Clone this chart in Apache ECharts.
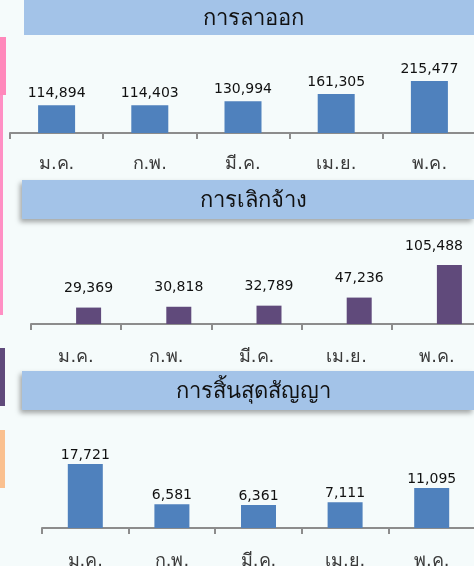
<!DOCTYPE html>
<html>
<head>
<meta charset="utf-8">
<script src="https://cdn.jsdelivr.net/npm/echarts@6/dist/echarts.min.js"></script>
<style>
  html, body { margin: 0; padding: 0; background: #f5fbfb; }
  #chart { width: 474px; height: 566px; }
</style>
</head>
<body>
<div id="chart"></div>
<script>
const months = ['ม.ค.', 'ก.พ.', 'มี.ค.', 'เม.ย.', 'พ.ค.'];
const resignValues = [114894, 114403, 130994, 161305, 215477];
const dismissValues = [29369, 30818, 32789, 47236, 105488];
const contractEndValues = [17721, 6581, 6361, 7111, 11095];
const panelTitles = ['การลาออก', 'การเลิกจ้าง', 'การสิ้นสุดสัญญา'];

const fontFamily = 'Tahoma, "DejaVu Sans", sans-serif';

function xAxisFor(gridIndex, margin) {
    return {
        type: 'category',
        gridIndex: gridIndex,
        data: months,
        axisLine: { show: true, lineStyle: { color: '#8c8c8c', width: 2 } },
        axisTick: { show: true, interval: 0, alignWithLabel: false, length: 6, lineStyle: { color: '#8c8c8c', width: 2 } },
        axisLabel: { color: '#3a3a3a', fontSize: 18, fontFamily: fontFamily, margin: margin }
    };
}

function yAxisFor(gridIndex, max) {
    return { type: 'value', gridIndex: gridIndex, min: 0, max: max, show: false, splitLine: { show: false } };
}

function valueLabel(distance) {
    return {
        show: true,
        position: 'top',
        distance: distance,
        color: '#111',
        fontSize: 14,
        fontFamily: fontFamily,
        formatter: p => p.value.toLocaleString('en-US')
    };
}

// keep value labels inside the plot, like the spreadsheet does
function keepInside(params) {
    const r = params.labelRect;
    if (r.x + r.width > 463) {
        return { x: 463, y: r.y + r.height / 2, align: 'right', verticalAlign: 'middle' };
    }
    return {};
}

function banner(y, h, left, title, shadow) {
    return [
        {
            type: 'rect',
            shape: { x: left, y: y, width: 474 - left, height: h },
            style: {
                fill: '#a3c3e8',
                shadowBlur: shadow ? 5 : 0,
                shadowOffsetX: shadow ? -2 : 0,
                shadowOffsetY: shadow ? 3 : 0,
                shadowColor: 'rgba(0,0,0,0.35)'
            }
        },
        {
            type: 'text',
            x: 253,
            y: y + h / 2 + 2,
            style: {
                text: title,
                fill: '#111',
                font: '22px ' + fontFamily,
                align: 'center',
                verticalAlign: 'middle'
            }
        }
    ];
}

const chart = echarts.init(document.getElementById('chart'));

chart.setOption({
    backgroundColor: '#f5fbfb',
    animation: false,
    grid: [
        { left: 10, top: 40, width: 466, height: 93, outerBoundsMode: 'none' },
        { left: 31, top: 225, width: 451, height: 99, outerBoundsMode: 'none' },
        { left: 42, top: 430, width: 433, height: 98, outerBoundsMode: 'none' }
    ],
    xAxis: [xAxisFor(0, 22), xAxisFor(1, 24), xAxisFor(2, 24)],
    yAxis: [yAxisFor(0, 385000), yAxisFor(1, 177000), yAxisFor(2, 27150)],
    series: [
        {
            type: 'bar', xAxisIndex: 0, yAxisIndex: 0,
            data: resignValues, barWidth: 37,
            itemStyle: { color: '#4f81bd' },
            label: valueLabel(5)
        },
        {
            type: 'bar', xAxisIndex: 1, yAxisIndex: 1,
            data: [], barWidth: 25, barGap: '0%'
        },
        {
            type: 'bar', xAxisIndex: 1, yAxisIndex: 1,
            data: dismissValues, barWidth: 25, barGap: '0%',
            itemStyle: { color: '#604a7b' },
            label: valueLabel(12),
            labelLayout: keepInside
        },
        {
            type: 'bar', xAxisIndex: 2, yAxisIndex: 2,
            data: contractEndValues, barWidth: 35,
            itemStyle: { color: '#4f81bd' },
            label: valueLabel(2)
        }
    ],
    graphic: [
        { type: 'rect', shape: { x: 0, y: 37, width: 6, height: 58 }, style: { fill: '#ff88bb' } },
        { type: 'rect', shape: { x: 0, y: 95, width: 3, height: 220 }, style: { fill: '#ff8fc4' } },
        { type: 'rect', shape: { x: 0, y: 348, width: 5, height: 58 }, style: { fill: '#5f4a7b' } },
        { type: 'rect', shape: { x: 0, y: 430, width: 5, height: 58 }, style: { fill: '#fac08f' } },
        ...banner(0, 35, 24, panelTitles[0], false),
        ...banner(180, 39, 22, panelTitles[1], true),
        ...banner(371, 39, 22, panelTitles[2], true)
    ]
});
</script>
</body>
</html>
